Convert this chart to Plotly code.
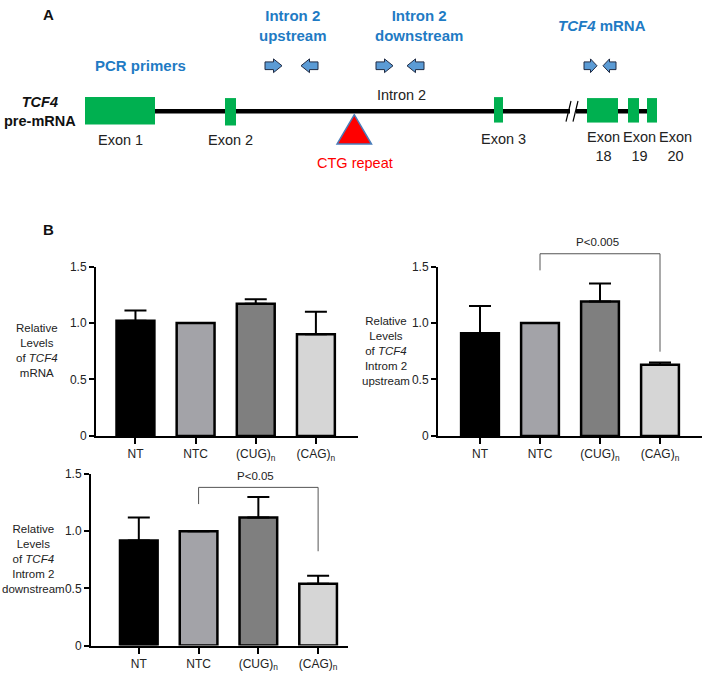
import plotly.graph_objects as go

# ---------------- data ----------------
categories = ['NT', 'NTC', '(CUG)<sub>n</sub>', '(CAG)<sub>n</sub>']
bar_colors = ['#000000', '#A3A3A8', '#7F7F7F', '#D6D6D6']

mrna_mean = [1.02, 1.00, 1.17, 0.90]
mrna_err = [0.09, 0.0, 0.04, 0.20]

up_mean = [0.91, 1.00, 1.19, 0.63]
up_err = [0.24, 0.0, 0.16, 0.02]

down_mean = [0.92, 1.00, 1.12, 0.54]
down_err = [0.20, 0.0, 0.18, 0.07]

y_tickvals = [0, 0.5, 1.0, 1.5]
y_ticktext = ['0', '0.5', '1.0', '1.5']

W, H = 702, 677
FONT = 'Arial, Liberation Sans, sans-serif'
BLUE = '#1F7BC4'


def px(x):
    return x / W


def py(y):
    return 1 - y / H


# subplot geometry in pixels
AX = {
    1: dict(xdom=(96, 358), ydom=(265, 438), xr=(-0.656, 3.70)),
    2: dict(xdom=(438, 702), ydom=(265, 438), xr=(-0.70, 3.70)),
    3: dict(xdom=(91, 348), ydom=(477, 652), xr=(-0.80, 3.50)),
}


def d2p(k, x, y):
    a = AX[k]
    x0, x1 = a['xdom']
    r0, r1 = a['xr']
    y0, y1 = a['ydom']
    return (x0 + (x - r0) / (r1 - r0) * (x1 - x0), y1 - y / 1.5 * (y1 - y0))


fig = go.Figure()
shapes = []
ann = []

series = {1: (mrna_mean, mrna_err), 2: (up_mean, up_err), 3: (down_mean, down_err)}
layout_axes = {}
for k, (mean, err) in series.items():
    xa = 'x' if k == 1 else f'x{k}'
    ya = 'y' if k == 1 else f'y{k}'
    fig.add_trace(go.Bar(
        x=categories, y=mean, xaxis=xa, yaxis=ya,
        width=0.63,
        marker=dict(color=bar_colors, line=dict(color='black', width=2.5)),
        error_y=dict(type='data', symmetric=False, array=err,
                     arrayminus=[0] * len(err), thickness=2, width=11,
                     color='black'),
        showlegend=False, hoverinfo='skip'))
    a = AX[k]
    xkey = 'xaxis' if k == 1 else f'xaxis{k}'
    ykey = 'yaxis' if k == 1 else f'yaxis{k}'
    layout_axes[xkey] = dict(
        domain=[px(a['xdom'][0]), px(a['xdom'][1])], anchor=ya,
        type='category', range=list(a['xr']),
        showline=True, linewidth=2, linecolor='black',
        ticks='outside', ticklen=6, tickwidth=2, tickcolor='black',
        showgrid=False, zeroline=False,
        tickfont=dict(family=FONT, size=12, color='#222'))
    layout_axes[ykey] = dict(
        domain=[py(a['ydom'][1]), py(a['ydom'][0])], anchor=xa,
        range=[0, 1.5], tickvals=y_tickvals, ticktext=y_ticktext,
        showline=True, linewidth=2, linecolor='black',
        ticks='outside', ticklen=5, tickwidth=2, tickcolor='black',
        showgrid=False, zeroline=False,
        tickfont=dict(family=FONT, size=12, color='#222'))

fig.update_layout(**layout_axes)

# y-axis titles
ytitles = [
    (37, 351, 'Relative<br>Levels<br>of <i>TCF4</i><br>mRNA'),
    (386, 351, 'Relative<br>Levels<br>of <i>TCF4</i><br>Introm 2<br>upstream'),
    (33, 564, 'Relative<br>Levels<br>of <i>TCF4</i><br>Introm 2<br>downstream'),
]
for x, y, t in ytitles:
    ann.append(dict(x=px(x), y=py(y), xref='paper', yref='paper', text=t,
                    showarrow=False, align='center', xanchor='center',
                    yanchor='middle',
                    font=dict(family=FONT, size=11.5, color='#222')))

# significance brackets
brackets = [
    (2, 1, 3, 1.613, 1.466, 0.746, 'P<0.005'),
    (3, 1, 3, 1.384, 1.238, 0.825, 'P<0.05'),
]
for k, xa, xb, top, lb, rb, label in brackets:
    ax_, ay_ = d2p(k, xa, lb)
    ax2, ay2 = d2p(k, xa, top)
    bx2, by2 = d2p(k, xb, top)
    bx_, by_ = d2p(k, xb, rb)
    path = (f'M {px(ax_)},{py(ay_)} L {px(ax2)},{py(ay2)} '
            f'L {px(bx2)},{py(by2)} L {px(bx_)},{py(by_)}')
    shapes.append(dict(type='path', xref='paper', yref='paper', path=path,
                       line=dict(color='#555', width=1)))
    cx, cy = d2p(k, (xa + xb) / 2, top)
    ann.append(dict(x=px(cx - 3), y=py(cy - 12), xref='paper', yref='paper',
                    text=label, showarrow=False, xanchor='center',
                    yanchor='middle',
                    font=dict(family=FONT, size=11.5, color='#222')))

# ---------------- panel A diagram ----------------
LINE_Y = 106.5
# intron line segments
for x0, x1 in [(150, 570), (576, 652)]:
    shapes.append(dict(type='line', xref='paper', yref='paper',
                       x0=px(x0), x1=px(x1), y0=py(LINE_Y), y1=py(LINE_Y),
                       line=dict(color='black', width=4.5)))
# break slashes
for x0 in [566, 573]:
    shapes.append(dict(type='line', xref='paper', yref='paper',
                       x0=px(x0), x1=px(x0 + 5), y0=py(117), y1=py(96),
                       line=dict(color='black', width=1.2)))

exons = [
    (85, 155, 92, 120),
    (225, 236, 93, 121),
    (494, 503, 92, 118),
    (587, 618, 93, 118),
    (628, 639, 93, 118),
    (647, 657, 93, 118),
]
for x0, x1, y0, y1 in exons:
    shapes.append(dict(type='rect', xref='paper', yref='paper',
                       x0=px(x0), x1=px(x1), y0=py(y1), y1=py(y0),
                       fillcolor='#00B050', line=dict(width=0)))

# CTG repeat triangle
tri = (f'M {px(337)},{py(140)} L {px(354.3)},{py(110)} '
       f'L {px(371.5)},{py(140)} Z')
shapes.append(dict(type='path', xref='paper', yref='paper', path=tri,
                   fillcolor='#FF0000', line=dict(color='#4A7EBB', width=1.5)))


def arrow(x0, x1, yc, h, right=True):
    hl = (x1 - x0) * 0.5
    b = h * 0.28
    hh = h / 2
    if right:
        xh = x1 - hl
        pts = [(x0, yc - b), (xh, yc - b), (xh, yc - hh), (x1, yc),
               (xh, yc + hh), (xh, yc + b), (x0, yc + b)]
    else:
        xh = x0 + hl
        pts = [(x1, yc - b), (xh, yc - b), (xh, yc - hh), (x0, yc),
               (xh, yc + hh), (xh, yc + b), (x1, yc + b)]
    p = 'M ' + ' L '.join(f'{px(a)},{py(c)}' for a, c in pts) + ' Z'
    return dict(type='path', xref='paper', yref='paper', path=p,
                fillcolor='#5B9BD5', line=dict(color='#1F2A44', width=1))


shapes += [
    arrow(265, 282, 60, 14, True), arrow(301, 318, 60, 14, False),
    arrow(376, 393, 60, 14, True), arrow(407, 424, 60, 14, False),
    arrow(584, 597, 60, 14, True), arrow(603, 616, 60, 14, False),
]


def text(x, y, t, size=14.5, color='#222', bold=False, xanchor='center'):
    if bold:
        t = f'<b>{t}</b>'
    ann.append(dict(x=px(x), y=py(y), xref='paper', yref='paper', text=t,
                    showarrow=False, xanchor=xanchor, yanchor='middle',
                    align='center' if xanchor == 'center' else 'left',
                    font=dict(family=FONT, size=size, color=color)))


text(48, 8, 'A', size=15, color='#111', bold=True)
text(48, 227, 'B', size=15, color='#111', bold=True)
text(140, 60, 'PCR primers', size=15, color=BLUE, bold=True)
text(293, 19, 'Intron 2<br>upstream', size=15, color=BLUE, bold=True)
text(419, 19, 'Intron 2<br>downstream', size=15, color=BLUE, bold=True)
text(602, 19, '<i>TCF4</i> mRNA', size=15, color=BLUE, bold=True)
text(40, 107, '<i>TCF4</i><br>pre-mRNA', size=14.5, color='#111', bold=True)
text(120, 136, 'Exon 1')
text(230, 136, 'Exon 2')
text(503, 135, 'Exon 3')
text(401, 90, 'Intron 2')
text(355, 159, 'CTG repeat', color='#FF0000')
text(603, 142, 'Exon<br>18')
text(639, 142, 'Exon<br>19')
text(675, 142, 'Exon<br>20')

fig.update_layout(
    width=W, height=H, margin=dict(l=0, r=0, t=0, b=0),
    paper_bgcolor='white', plot_bgcolor='white',
    shapes=shapes, annotations=ann, bargap=0.3,
    font=dict(family=FONT),
)

fig.write_html('out.html',
               config={'displayModeBar': False},
               post_script="document.body.style.margin='0';"
                           "document.body.style.overflow='hidden';")
